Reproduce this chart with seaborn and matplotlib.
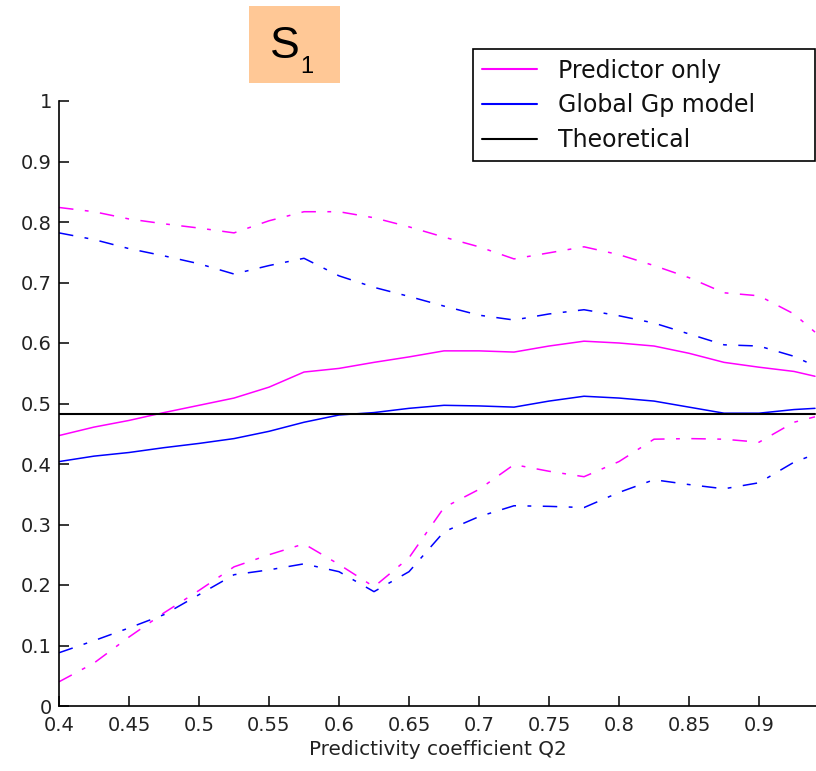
import matplotlib
matplotlib.use("Agg")
import matplotlib.pyplot as plt
from matplotlib.patches import Rectangle
import seaborn as sns
import pandas as pd

# Predictivity coefficient grid
q2 = [0.4, 0.425, 0.45, 0.475, 0.5, 0.525, 0.55, 0.575, 0.6, 0.625, 0.65,
      0.675, 0.7, 0.725, 0.75, 0.775, 0.8, 0.825, 0.85, 0.875, 0.9, 0.925, 0.94]

# Predictor only: mean estimate and confidence bounds
pred_mean = [0.447, 0.461, 0.472, 0.485, 0.497, 0.509, 0.527, 0.552, 0.558, 0.568, 0.577,
             0.587, 0.587, 0.585, 0.595, 0.603, 0.600, 0.595, 0.583, 0.568, 0.560, 0.553, 0.545]
pred_upper = [0.824, 0.817, 0.805, 0.797, 0.790, 0.782, 0.802, 0.817, 0.817, 0.807, 0.792,
              0.775, 0.759, 0.739, 0.749, 0.759, 0.746, 0.728, 0.708, 0.683, 0.678, 0.648, 0.618]
pred_lower = [0.040, 0.071, 0.114, 0.154, 0.191, 0.230, 0.250, 0.268, 0.234, 0.197, 0.245,
              0.328, 0.358, 0.399, 0.388, 0.379, 0.404, 0.441, 0.442, 0.441, 0.436, 0.469, 0.478]

# Global Gp model: mean estimate and confidence bounds
glob_mean = [0.404, 0.413, 0.419, 0.427, 0.434, 0.442, 0.454, 0.469, 0.481, 0.485, 0.492,
             0.497, 0.496, 0.494, 0.504, 0.512, 0.509, 0.504, 0.494, 0.484, 0.484, 0.490, 0.492]
glob_upper = [0.782, 0.771, 0.756, 0.744, 0.731, 0.714, 0.728, 0.740, 0.711, 0.692, 0.677,
              0.661, 0.646, 0.638, 0.648, 0.655, 0.645, 0.633, 0.615, 0.597, 0.595, 0.578, 0.562]
glob_lower = [0.088, 0.108, 0.129, 0.151, 0.184, 0.217, 0.225, 0.235, 0.222, 0.189, 0.222,
              0.288, 0.313, 0.331, 0.330, 0.328, 0.353, 0.374, 0.366, 0.359, 0.369, 0.403, 0.416]

theoretical = 0.482

x_ticks = [0.4, 0.45, 0.5, 0.55, 0.6, 0.65, 0.7, 0.75, 0.8, 0.85, 0.9]
x_tick_labels = ["0.4", "0.45", "0.5", "0.55", "0.6", "0.65", "0.7", "0.75", "0.8", "0.85", "0.9"]
y_ticks = [0, 0.1, 0.2, 0.3, 0.4, 0.5, 0.6, 0.7, 0.8, 0.9, 1.0]
y_tick_labels = ["0", "0.1", "0.2", "0.3", "0.4", "0.5", "0.6", "0.7", "0.8", "0.9", "1"]

sns.set_style("white")
plt.rcParams["font.family"] = ["DejaVu Sans"]
plt.rcParams["text.color"] = "#111111"

W, H = 816, 771
fig = plt.figure(figsize=(W / 100, H / 100), dpi=100)
ax = fig.add_axes([59 / W, 1 - 706 / H, (W - 59) / W, (706 - 101) / H])

df = pd.DataFrame({"q2": q2, "pred_mean": pred_mean, "pred_upper": pred_upper,
                   "pred_lower": pred_lower, "glob_mean": glob_mean,
                   "glob_upper": glob_upper, "glob_lower": glob_lower,
                   "theo": [theoretical] * len(q2)})

magenta = "#FF00FF"
blue = "#0000FF"
dashdot = (0, (9.5, 7.5, 2.5, 7.5))
lw = 1.1

sns.lineplot(data=df, x="q2", y="pred_mean", color=magenta, lw=lw, ax=ax, label="Predictor only")
sns.lineplot(data=df, x="q2", y="glob_mean", color=blue, lw=lw, ax=ax, label="Global Gp model")
sns.lineplot(data=df, x="q2", y="theo", color="black", lw=1.5, ax=ax, label="Theoretical")
for col, c in [("pred_upper", magenta), ("pred_lower", magenta),
               ("glob_upper", blue), ("glob_lower", blue)]:
    sns.lineplot(data=df, x="q2", y=col, color=c, lw=lw, ax=ax, linestyle=dashdot,
                 legend=False)

ax.set_xlim(0.4, 0.4 + (W - 59) / 1400)
ax.set_ylim(0, 1)
ax.set_xticks(x_ticks)
ax.set_xticklabels(x_tick_labels)
ax.set_yticks(y_ticks)
ax.set_yticklabels(y_tick_labels)
ax.tick_params(bottom=True, left=True, top=False, right=False,
               direction="in", length=7, width=1.1, labelsize=14, colors="black",
               labelcolor="#222222")
ax.tick_params(axis="y", pad=5)
ax.tick_params(axis="x", pad=7)
ax.set_xlabel("Predictivity coefficient Q2", fontsize=14.4, color="#222222", labelpad=4)
ax.set_ylabel("")

for side in ["top", "right"]:
    ax.spines[side].set_visible(False)
for side in ["left", "bottom"]:
    ax.spines[side].set_color("black")
    ax.spines[side].set_linewidth(1.2)

leg = ax.legend(loc="upper left", mode="expand",
                bbox_to_anchor=(473 / W, 1 - 50 / H, (815 - 473) / W, 0.001),
                bbox_transform=fig.transFigure, borderaxespad=0,
                fontsize=17, handlelength=2.3, handletextpad=0.9,
                labelspacing=0.45, borderpad=0.4, fancybox=False, framealpha=1)
leg.get_frame().set_edgecolor("black")
leg.get_frame().set_linewidth(1.2)
for line in leg.get_lines():
    line.set_linewidth(1.5)
for t in leg.get_texts():
    t.set_color("#111111")

# Panel tag with a shaded box
fig.patches.append(Rectangle((249 / W, 1 - 83 / H), 91 / W, 77 / H,
                             transform=fig.transFigure, facecolor="#FFC896",
                             edgecolor="none", zorder=5))
fig.text(285 / W, 1 - 46 / H, "S", fontsize=32, family="Liberation Sans",
         color="black", ha="center", va="center", zorder=6)
fig.text(307 / W, 1 - 67 / H, "1", fontsize=17, family="Liberation Sans",
         color="black", ha="center", va="center", zorder=6)

fig.savefig("out.png", dpi=100)
